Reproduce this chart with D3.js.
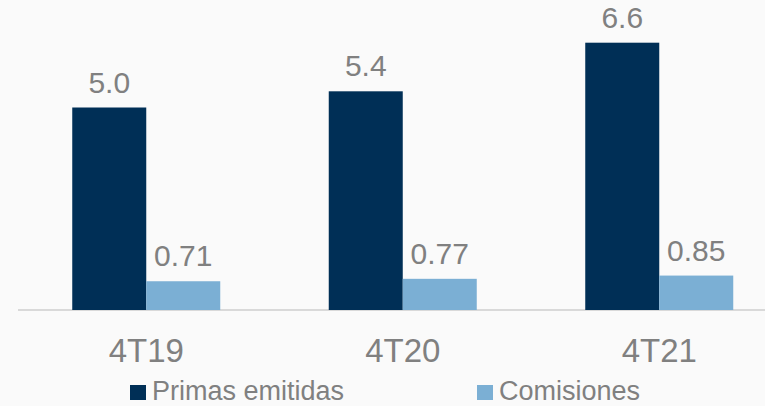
<!DOCTYPE html>
<html>
<head>
<meta charset="utf-8">
<script src="https://cdn.jsdelivr.net/npm/d3@7"></script>
<style>
  html, body { margin: 0; padding: 0; background: #fafafa; }
  svg { display: block; }
  text { font-family: "Liberation Sans", Arial, sans-serif; fill: #808080; }
</style>
</head>
<body>
<script>
const categories = ["4T19", "4T20", "4T21"];
const seriesNames = ["Primas emitidas", "Comisiones"];
const primas = [5.0, 5.4, 6.6];
const comisiones = [0.71, 0.77, 0.85];
const primasLabels = ["5.0", "5.4", "6.6"];
const comisionesLabels = ["0.71", "0.77", "0.85"];
const colors = ["#002f56", "#7bafd4"];

const W = 765, H = 406;
const baseY = 310;

const svg = d3.select("body").append("svg").attr("width", W).attr("height", H);
svg.append("rect").attr("width", W).attr("height", H).attr("fill", "#fafafa");

const x0 = d3.scaleBand().domain(categories).range([18, 787.5])
  .paddingInner(0.423).paddingOuter(0.2115);
const x1 = d3.scaleBand().domain(seriesNames).range([0, x0.bandwidth()]);
const y = d3.scaleLinear().domain([0, 7.2]).range([baseY, baseY - 7.2 * 40.5]);

const rows = categories.map((c, i) => ({
  cat: c,
  vals: [
    { s: seriesNames[0], v: primas[i], label: primasLabels[i], color: colors[0] },
    { s: seriesNames[1], v: comisiones[i], label: comisionesLabels[i], color: colors[1] }
  ]
}));

// axis baseline
svg.append("line").attr("x1", 18).attr("x2", W).attr("y1", baseY).attr("y2", baseY)
  .attr("stroke", "#d9d9d9").attr("stroke-width", 2);

const g = svg.selectAll("g.grp").data(rows).enter().append("g")
  .attr("class", "grp").attr("transform", d => `translate(${x0(d.cat)},0)`);

g.selectAll("rect").data(d => d.vals).enter().append("rect")
  .attr("x", d => x1(d.s)).attr("width", x1.bandwidth())
  .attr("y", d => y(d.v)).attr("height", d => baseY - y(d.v))
  .attr("fill", d => d.color);

g.selectAll("text.val").data(d => d.vals).enter().append("text")
  .attr("class", "val")
  .attr("x", d => x1(d.s) + x1.bandwidth() / 2)
  .attr("y", d => y(d.v) - 15)
  .attr("text-anchor", "middle")
  .style("font-size", "30px")
  .text(d => d.label);

// category axis labels
const xAxis = d3.axisBottom(x0).tickSize(0).tickPadding(0);
const ax = svg.append("g").attr("transform", `translate(0,${baseY})`).call(xAxis);
ax.select(".domain").remove();
ax.selectAll("text")
  .attr("y", 52).attr("dy", 0)
  .style("font-size", "33px")
  .style("font-family", '"Liberation Sans", Arial, sans-serif')
  .attr("fill", "#808080");

// legend
const legendX = [130, 477];
seriesNames.forEach((name, i) => {
  svg.append("rect").attr("x", legendX[i]).attr("y", 385).attr("width", 16).attr("height", 15)
    .attr("fill", colors[i]);
  svg.append("text").attr("x", legendX[i] + 22).attr("y", 400)
    .style("font-size", "27px").text(name);
});
</script>
</body>
</html>
